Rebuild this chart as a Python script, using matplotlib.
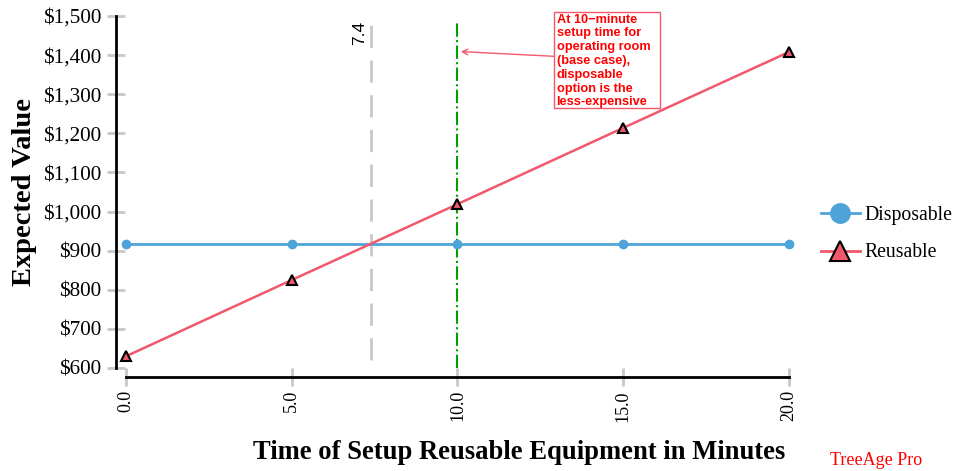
import numpy as np
import matplotlib.pyplot as plt
from matplotlib.lines import Line2D
from matplotlib.patches import Rectangle
from matplotlib.ticker import FuncFormatter

# setup time (minutes) and expected cost per strategy
setup_minutes = [0, 5, 10, 15, 20]
disposable = [917, 917, 917, 917, 917]
reusable = [630, 825, 1019, 1214, 1408]
threshold = 7.4
base_case = 10

blue = '#4ea3d8'
red = '#f0586c'
grey = '#c8c8c8'

plt.rcParams['font.family'] = 'Liberation Serif'

fig = plt.figure(figsize=(9.59, 4.71), dpi=100)
ax = fig.add_axes([0.1314, 0.2187, 0.6913, 0.7473])

ax.plot(setup_minutes, disposable, color=blue, lw=2, marker='o', ms=6,
        mec=blue, mfc=blue, zorder=3, clip_on=False)
ax.plot(setup_minutes, reusable, color=red, lw=1.8, marker='^', ms=7,
        mec='black', mew=1.5, mfc=red, zorder=4, clip_on=False)

# break-even and base-case lines
ax.plot([threshold, threshold], [620, 1500], color=grey, lw=2,
        dashes=(8, 4.5), zorder=2)
ax.text(threshold - 0.12, 1488, '7.4', rotation=90, ha='right', va='top',
        fontsize=12.5, family='Liberation Sans')
ax.plot([base_case, base_case], [600, 1485], color='#00a000', lw=1.5,
        ls='-.', zorder=2)

# note box with a pointer to the base case line
ax.add_patch(Rectangle((12.91, 1264), 3.2, 246, fc='white', ec=red, lw=1,
                       clip_on=False, zorder=5))
ax.text(12.99, 1506, 'At 10\u2212minute\nsetup time for\noperating room\n'
        '(base case),\ndisposable\noption is the\nless-expensive',
        ha='left', va='top', fontsize=9.2, color='#ff0000', fontweight='bold',
        family='Liberation Sans', linespacing=1.2, zorder=6)
ax.annotate('', xy=(base_case + 0.1, 1409), xytext=(12.91, 1397),
            annotation_clip=False,
            arrowprops=dict(arrowstyle='->', color=red, lw=1,
                            shrinkA=0, shrinkB=0))

ax.set_xlim(0, 20)
ax.set_ylim(600, 1500)
ax.set_xticks(setup_minutes)
ax.set_xticklabels(['%.1f' % v for v in setup_minutes])
ax.set_yticks(np.arange(600, 1501, 100))
ax.yaxis.set_major_formatter(FuncFormatter(lambda v, p: '${:,.0f}'.format(v)))
ax.tick_params(direction='inout', length=13, width=2, color=grey)
ax.tick_params(axis='y', labelsize=15.3, pad=4)
ax.tick_params(axis='x', labelsize=13, labelrotation=90, pad=3)

for side in ['top', 'right']:
    ax.spines[side].set_visible(False)
ax.spines['left'].set_position(('outward', 7.2))
ax.spines['bottom'].set_position(('outward', 6.5))
ax.spines['left'].set_linewidth(2)
ax.spines['bottom'].set_linewidth(2)

ax.set_xlabel('Time of Setup Reusable Equipment in Minutes', fontsize=19.2,
              fontweight='bold', va='center')
ax.xaxis.set_label_coords(0.593, -0.239)
ax.set_ylabel('Expected Value', fontsize=20.5, fontweight='bold', labelpad=4)

handles = [Line2D([], [], color=blue, lw=2, marker='o', ms=14, mfc=blue,
                  mec=blue),
           Line2D([], [], color=red, lw=2, marker='^', ms=15, mfc=red,
                  mec='black', mew=1.5)]
fig.legend(handles, ['Disposable', 'Reusable'], loc='center left',
           bbox_to_anchor=(0.8455, 0.503), frameon=False, fontsize=14.2,
           handlelength=2.0, handletextpad=0.2, labelspacing=0.95,
           borderpad=0)

fig.text(0.865, 0.012, 'TreeAge Pro', color='#ff0000', fontsize=13)

fig.savefig('out.png', dpi=100)
